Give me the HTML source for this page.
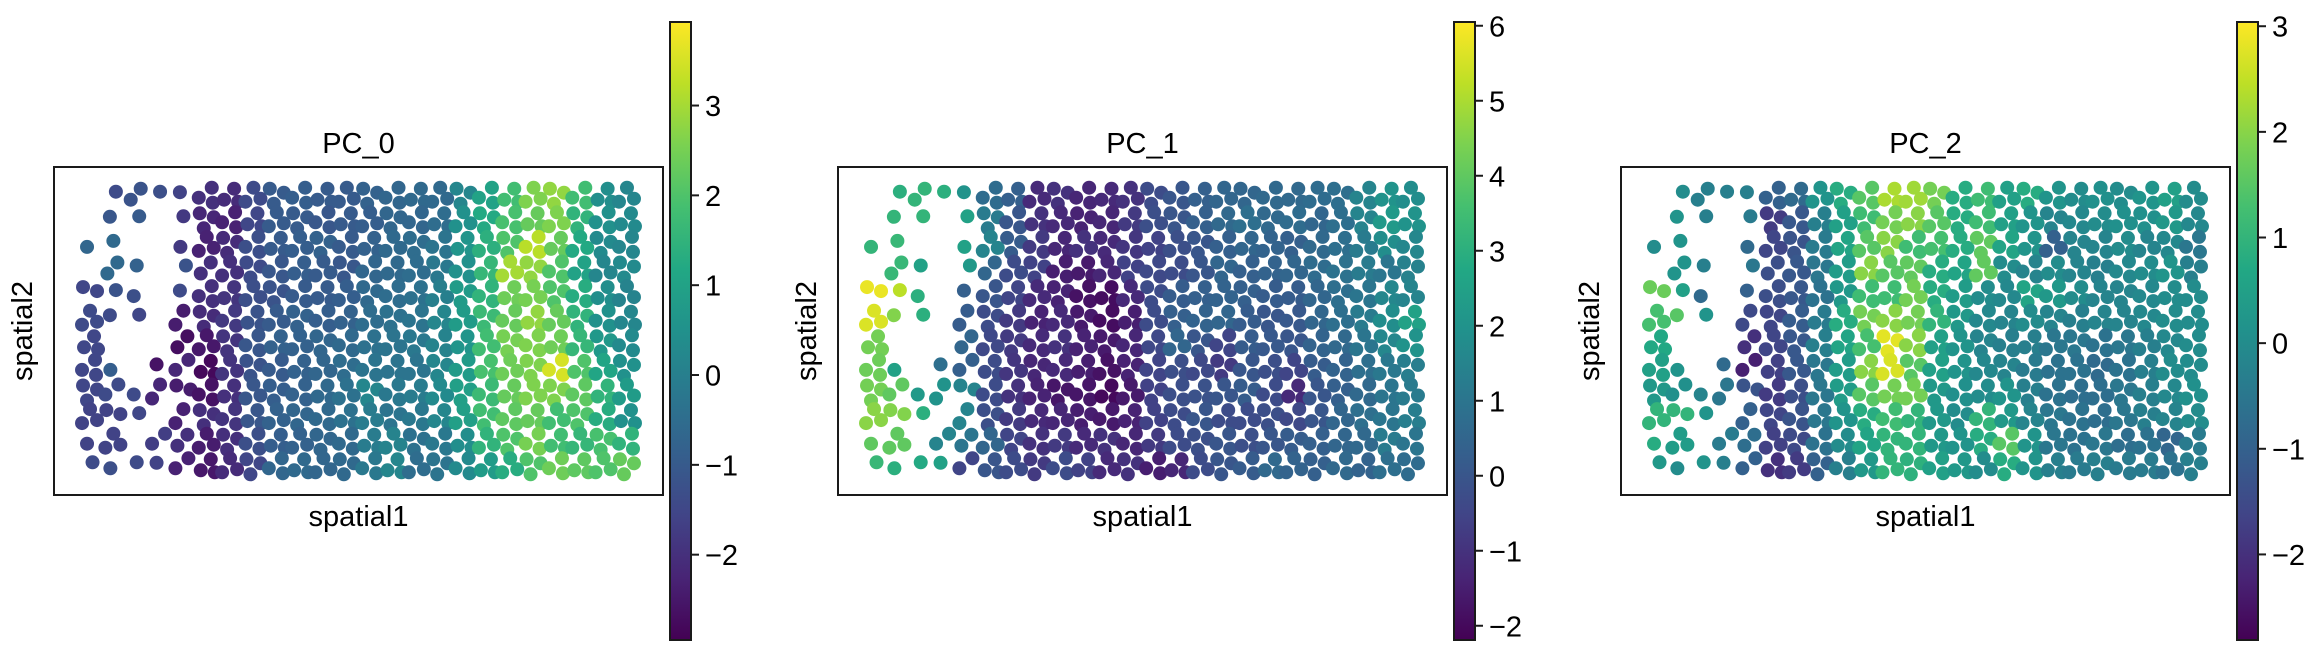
<!DOCTYPE html>
<html><head><meta charset="utf-8">
<style>
html,body{margin:0;padding:0;background:#fff;}
svg{display:block;font-family:"Liberation Sans",Arial,sans-serif;}
</style></head>
<body>
<svg id="fig" width="2324" height="656" viewBox="0 0 2324 656" xmlns="http://www.w3.org/2000/svg">
<defs>
<linearGradient id="vir" x1="0" y1="1" x2="0" y2="0">
<stop offset="0" stop-color="#440154"/><stop offset="0.1" stop-color="#482475"/><stop offset="0.2" stop-color="#414487"/><stop offset="0.3" stop-color="#355f8d"/><stop offset="0.4" stop-color="#2a788e"/><stop offset="0.5" stop-color="#21918c"/><stop offset="0.6" stop-color="#22a884"/><stop offset="0.7" stop-color="#44bf70"/><stop offset="0.8" stop-color="#7ad151"/><stop offset="0.9" stop-color="#bddf26"/><stop offset="1" stop-color="#fde725"/>
</linearGradient>
</defs>
</svg>
<script>
// density of spots per grid cell (shared spatial layout), 12 rows x 24 cols
const density = [
"012113333333333333333333",
"011013333333333333333333",
"110013333333333333333333",
"021012333333333333333333",
"211013333333333333333333",
"311023333333333333333333",
"300023333333333333333333",
"310123333333333333333333",
"321223333333333333333333",
"321023333333333333333333",
"130223333333333333333333",
"111123333333333333333333"];
const pc0 = [
[-1.3,-1.4,-1.2,-1.3,-1.6,-2.0,-2.1,-1.4,-1.0,-0.9,-1.0,-1.0,-0.8,-0.7,-0.6,-0.6,0.2,1.0,1.8,2.6,2.8,1.8,0.4,0.2],
[-1.2,-1.1,-1.0,-1.3,-1.8,-2.2,-2.3,-1.5,-1.0,-1.0,-1.1,-1.0,-0.9,-0.7,-0.7,-0.5,0.5,1.2,1.9,2.3,2.6,1.5,0.5,0.3],
[-0.7,-0.6,-1.0,-1.3,-1.8,-2.3,-2.1,-1.3,-1.0,-0.9,-0.8,-1.0,-0.8,-0.6,-0.5,-0.3,0.6,1.4,2.0,3.2,2.3,1.2,0.3,0.2],
[-0.8,-0.6,-0.8,-1.3,-1.2,-2.0,-2.0,-1.4,-1.1,-0.9,-1.0,-1.1,-0.7,-0.6,-0.5,-0.2,0.5,1.6,3.0,2.8,2.0,1.0,0.2,0.3],
[-1.5,-1.2,-1.3,-1.3,-1.4,-2.0,-1.9,-1.3,-1.2,-1.0,-1.0,-0.9,-0.6,-0.5,-0.4,0.0,0.8,1.5,2.4,2.5,2.0,1.3,0.4,0.1],
[-1.4,-1.4,-1.5,-1.5,-2.4,-2.1,-1.8,-1.2,-1.0,-0.8,-0.9,-0.8,-0.5,-0.4,-0.3,0.2,0.8,1.7,2.3,2.8,2.3,1.5,0.5,0.2],
[-1.5,-1.5,-1.5,-1.5,-2.7,-2.5,-1.9,-1.1,-0.8,-0.8,-0.7,-0.6,-0.4,-0.3,-0.2,0.1,0.6,1.8,2.5,2.6,2.4,1.6,0.7,0.3],
[-1.5,-0.9,-1.5,-2.6,-2.2,-2.8,-1.9,-1.2,-1.0,-0.8,-0.7,-0.5,-0.3,-0.3,-0.3,0.2,0.8,1.9,2.4,2.6,3.5,2.0,1.1,0.5],
[-1.5,-1.4,-1.4,-2.2,-2.4,-2.6,-2.0,-1.1,-0.9,-0.8,-0.6,-0.4,0.2,-0.2,-0.1,0.3,0.9,1.7,2.3,2.6,2.6,2.2,1.5,0.8],
[-1.6,-1.6,-1.5,-1.5,-2.3,-2.0,-1.9,-1.1,-0.8,-0.7,-0.6,-0.4,-0.1,-0.3,-0.2,0.2,0.9,1.8,2.2,2.3,1.8,2.0,1.3,0.5],
[-1.6,-1.6,-1.5,-1.7,-2.0,-2.4,-2.0,-1.3,-0.9,-0.8,-0.7,-0.6,-0.1,0.1,-0.4,-0.2,0.4,1.5,2.0,2.5,1.8,1.6,1.9,1.5],
[-1.4,-1.3,-1.4,-1.6,-2.3,-2.5,-2.1,-1.5,-0.7,-0.6,-0.7,-0.6,-0.2,0.2,-0.5,-0.3,0.3,0.8,1.3,2.0,2.4,2.2,2.0,2.3]];
const pc1 = [
[3.0,3.0,3.2,3.0,2.0,0.7,0.3,-1.2,-1.0,-1.3,-1.2,-1.0,-0.3,0.0,0.3,0.5,0.5,0.6,0.6,0.7,0.8,1.5,2.0,1.8],
[3.0,3.2,3.2,3.0,2.5,1.2,0.0,-1.0,-1.2,-1.4,-1.3,-0.8,-0.2,0.0,0.3,0.6,0.8,0.6,0.7,0.5,0.8,1.5,2.2,2.0],
[3.2,3.3,3.2,3.0,2.5,1.5,0.2,-0.8,-1.3,-1.0,-1.2,-0.9,-0.6,-0.2,0.0,0.3,0.5,0.4,0.3,0.6,0.8,1.2,1.8,1.6],
[3.0,3.3,2.5,2.5,2.2,0.5,-0.3,-0.6,-1.5,-1.6,-1.3,-0.6,-0.4,-0.3,0.0,0.5,0.3,0.4,0.5,0.7,0.9,1.2,1.0,1.4],
[5.8,5.2,3.0,3.0,0.3,0.0,-0.5,-1.2,-1.4,-1.8,-1.9,-1.2,-0.3,0.2,0.3,0.4,0.3,0.2,0.2,0.5,0.8,1.0,1.6,1.5],
[5.6,4.5,3.0,3.0,0.2,-0.3,-0.8,-1.4,-1.2,-1.6,-1.9,-1.5,-0.3,0.3,0.4,0.5,0.2,0.0,0.1,0.5,0.8,1.2,1.8,2.5],
[4.3,4.0,3.0,3.0,0.5,-0.4,-0.8,-1.2,-1.0,-1.4,-1.6,-1.3,-0.4,0.5,0.0,-0.5,0.2,0.1,0.0,0.4,0.6,1.0,1.6,2.0],
[4.2,2.5,3.0,0.8,0.3,-0.3,-0.9,-1.3,-1.2,-1.5,-1.8,-1.4,-0.5,-0.2,-0.4,-0.8,0.0,-0.2,-0.5,0.2,0.4,0.8,1.1,1.3],
[4.3,4.0,2.2,2.0,1.5,-0.3,-1.0,-1.4,-1.7,-1.7,-2.0,-1.6,-0.6,-0.2,-0.1,0.0,0.2,-0.3,-1.2,0.0,0.3,0.6,1.0,1.2],
[4.6,4.5,3.0,2.0,1.5,-0.2,-0.8,-1.2,-1.3,-1.5,-1.6,-1.4,-0.6,-0.3,0.0,-0.3,-0.3,-0.2,-0.4,0.0,0.5,0.8,1.0,1.3],
[4.0,4.0,2.8,1.5,1.0,0.5,-0.5,-1.0,-0.8,-1.2,-1.0,-1.3,-0.8,-0.3,-0.2,0.0,-0.2,0.0,0.2,0.3,0.5,0.6,1.2,1.0],
[3.3,3.0,2.8,2.5,-0.5,0.0,-0.3,-0.8,-0.3,-0.6,-1.2,-1.0,-1.5,-1.3,-0.3,0.0,0.2,0.6,0.4,0.3,0.6,0.4,0.8,0.7]];
const pc2 = [
[-0.2,0.0,-0.3,-0.3,-0.3,-1.0,-0.8,0.2,0.8,1.5,2.3,2.2,1.8,0.8,1.2,0.5,0.8,0.2,0.0,0.1,0.0,0.2,0.5,0.0],
[0.0,0.2,-0.3,-0.3,-0.4,-1.8,-1.2,-0.3,0.5,1.2,1.8,2.0,1.5,0.8,1.2,0.5,0.2,-0.2,-0.1,0.0,0.1,0.1,0.3,-0.1],
[0.0,0.2,-0.3,-0.3,-0.8,-1.6,-1.3,-0.4,0.6,1.5,2.0,1.2,1.3,0.8,1.6,0.6,0.2,-1.0,-0.2,-0.2,0.0,-0.2,-0.1,-0.5],
[-0.2,0.2,-0.3,-0.5,-0.5,-1.4,-1.2,-0.5,0.4,2.0,1.5,1.6,0.8,0.6,1.6,0.0,-0.2,0.0,-0.2,-0.3,-0.1,0.0,0.2,-0.3],
[1.7,0.5,-0.8,-0.5,-1.0,-1.4,-1.2,-0.6,0.3,1.2,1.2,1.8,0.8,0.4,0.0,-0.1,0.6,0.3,0.0,-0.2,-0.2,-0.1,0.0,0.0],
[1.3,1.5,0.2,-0.5,-1.5,-1.6,-1.1,-0.4,0.8,1.8,2.0,1.8,1.0,0.3,-0.1,-0.2,0.0,-0.2,-0.3,-0.2,-0.2,-0.1,0.0,0.0],
[0.7,0.5,0.2,-0.5,-2.0,-1.6,-1.2,-0.3,0.6,1.3,2.8,2.0,0.5,0.2,-0.2,-0.3,-0.3,-0.5,-0.5,-0.6,-0.5,-0.3,-0.1,0.0],
[0.5,0.2,0.2,-0.8,-2.3,-1.7,-1.2,-0.5,0.4,2.0,2.7,1.5,0.5,0.2,-0.1,-0.2,-0.4,-0.6,-0.6,-0.8,-0.6,-0.3,0.0,0.0],
[0.3,0.1,-0.2,-0.5,-1.3,-1.8,-1.4,-0.5,0.4,1.5,1.8,1.8,0.3,0.1,0.0,0.2,-0.3,-0.6,-0.7,-0.7,-0.5,-0.3,-0.1,0.1],
[1.0,1.0,0.2,-0.5,-1.0,-1.6,-1.3,-0.5,0.2,0.8,1.2,1.0,0.3,0.0,1.0,0.3,-0.2,-0.5,-0.6,-0.7,-0.5,-0.3,-0.2,0.0],
[0.8,0.4,0.2,-0.4,-0.7,-1.7,-1.5,-0.6,0.0,0.6,1.0,1.0,0.3,0.2,0.8,1.5,0.2,-0.5,-0.6,-0.5,-0.7,-0.6,-0.9,-0.4],
[0.3,0.0,0.2,-0.3,-1.0,-2.0,-1.8,-1.0,-0.3,0.3,1.0,0.9,0.5,0.3,0.0,0.8,0.2,-0.3,-0.4,-0.3,-0.4,-0.4,-0.6,-0.3]];
const titles = ["PC_0","PC_1","PC_2"];
const cbMin = [-2.95,-2.19,-2.81];
const cbMax = [3.93,6.05,3.04];
const cbTicks = [[-2,-1,0,1,2,3],[-2,-1,0,1,2,3,4,5,6],[-2,-1,0,1,2,3]];

const NS="http://www.w3.org/2000/svg";
const svg=document.getElementById('fig');
const VIR=["#440154","#482475","#414487","#355f8d","#2a788e","#21918c","#22a884","#44bf70","#7ad151","#bddf26","#fde725"];
function hx(h){return [parseInt(h.slice(1,3),16),parseInt(h.slice(3,5),16),parseInt(h.slice(5,7),16)];}
function viridis(t){t=Math.max(0,Math.min(1,t));const f=t*10,i=Math.min(9,Math.floor(f)),u=f-i;const a=hx(VIR[i]),b=hx(VIR[i+1]);
return 'rgb('+a.map((v,k)=>Math.round(v+(b[k]-v)*u)).join(',')+')';}
function mk(tag,attrs,parent){const e=document.createElementNS(NS,tag);for(const k in attrs)e.setAttribute(k,attrs[k]);(parent||svg).appendChild(e);return e;}

const boxX=[54,838,1621], boxY=167, boxW=609, boxH=328;
const cbX=[670,1454,2237], cbY=22, cbW=21, cbH=618;
const NC=24, NR=12;
// layout offset patterns (styling only) to break the regular grid look
const patterns=[
 [[-7,-7],[7,-3],[-3,8]],
 [[5,-8],[-8,2],[6,7]],
 [[-6,4],[4,-7],[8,6]],
 [[0,-8],[-8,6],[7,3]]];
const datasets=[pc0,pc1,pc2];

for(let p=0;p<3;p++){
  const g=mk('g',{});
  
  
  const xs=c=>boxX[p]+(0.04+(c+0.5)*0.92/NC)*boxW;
  const ys=r=>boxY+(0.05+(r+0.5)*0.9/NR)*boxH;
  const cs=v=>viridis((v-cbMin[p])/(cbMax[p]-cbMin[p]));
  const dots=mk('g',{},g);
  
  
  for(let r=0;r<NR;r++)for(let c=0;c<NC;c++){
    const n=+density[r][c];const v=datasets[p][r][c];
    const pat=patterns[(r*3+c*5)%4];
    for(let k=0;k<n;k++){
      const o=n===1?[pat[0][0]/2,pat[0][1]/2]:pat[k];
      const ci=mk('circle',{cx:xs(c)+o[0],cy:ys(r)+o[1],r:7,fill:cs(v)},dots);
      
      
    }
  }
  const fr=mk('rect',{x:boxX[p],y:boxY,width:boxW,height:boxH,fill:'none',stroke:'#1a1a1a','stroke-width':2},g);
  
  
  const cx=boxX[p]+boxW/2;
  const t=mk('text',{x:cx,y:153,'text-anchor':'middle','font-size':29,fill:'#000'},g);t.textContent=titles[p];
  
  
  const xl=mk('text',{x:cx,y:526,'text-anchor':'middle','font-size':29,fill:'#000'},g);xl.textContent='spatial1';
  
  
  const yx=boxX[p]-22, yy=boxY+boxH/2;
  const yl=mk('text',{x:yx,y:yy,'text-anchor':'middle','font-size':29,fill:'#000',transform:'rotate(-90 '+yx+' '+yy+')'},g);yl.textContent='spatial2';
  
  
  const cb=mk('rect',{x:cbX[p],y:cbY,width:cbW,height:cbH,fill:'url(#vir)',stroke:'#1a1a1a','stroke-width':2},g);
  
  
  const cy=v=>cbY+(cbMax[p]-v)/(cbMax[p]-cbMin[p])*cbH;
  cbTicks[p].forEach(v=>{
    const y=cy(v);
    const tk=mk('line',{x1:cbX[p]+cbW,x2:cbX[p]+cbW+8,y1:y,y2:y,stroke:'#1a1a1a','stroke-width':2},g);
    
    
    const tl=mk('text',{x:cbX[p]+cbW+14,y:y+10.5,'font-size':29,fill:'#000'},g);
    tl.textContent=(v<0?'\u2212':'')+Math.abs(v);
    
    
  });
}
</script>
</body></html>
